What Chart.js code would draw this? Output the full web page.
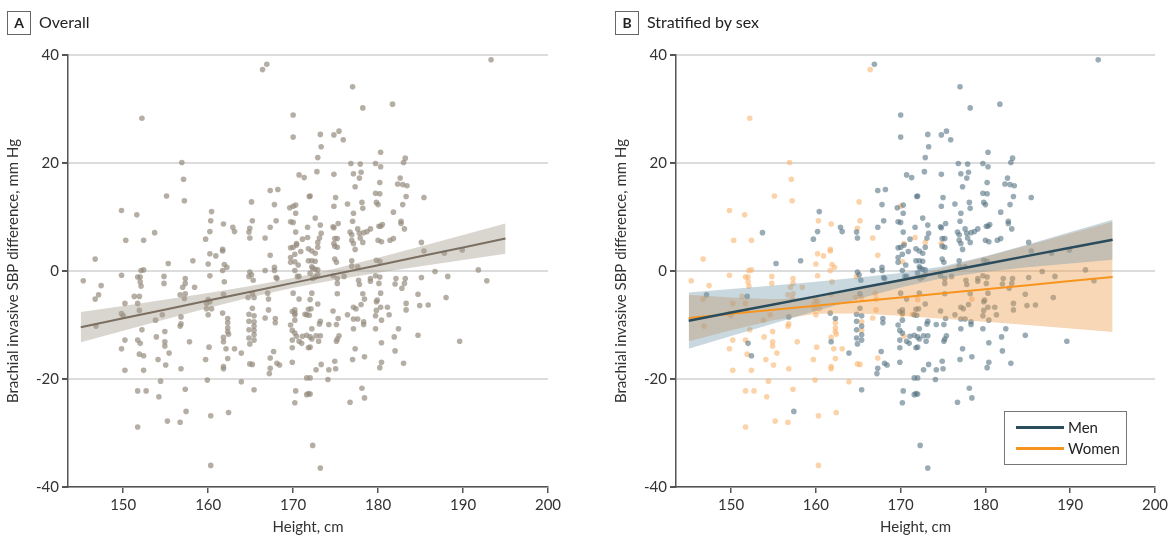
<!DOCTYPE html>
<html>
<head>
<meta charset="utf-8">
<script src="https://cdn.jsdelivr.net/npm/chart.js@4.4.1/dist/chart.umd.min.js"></script>
<style>
  body { margin: 0; background: #fff; font-family: Lato, sans-serif; color: #222; }
  #page { position: relative; width: 1173px; height: 540px; overflow: hidden; }
  .panel { position: absolute; top: 0; height: 540px; }
  .panel canvas { position: absolute; left: 0; top: 0; }
  .tag { position: absolute; top: 11px; left: 7px; width: 22px; height: 22px; border: 1px solid #666;
         font-weight: bold; font-size: 14px; text-align: center; line-height: 22px; box-sizing: content-box; }
  .caption { position: absolute; top: 11px; left: 39px; font-size: 16px; line-height: 22px; }
  .legend { position: absolute; left: 1004px; top: 411px; width: 121px; height: 52px; border: 1px solid #777; }
  .legend .key { position: absolute; left: 11px; width: 48px; height: 3px; }
  .legend .lbl { position: absolute; left: 63px; font-size: 15px; line-height: 18px; }
</style>
</head>
<body>
<div id="page">
  <div class="panel" style="left:0;width:586px">
    <canvas id="chartA" width="586" height="540"></canvas>
    <div class="tag">A</div><div class="caption">Overall</div>
  </div>
  <div class="panel" style="left:608px;width:565px">
    <canvas id="chartB" width="565" height="540"></canvas>
    <div class="tag">B</div><div class="caption">Stratified by sex</div>
  </div>
  <div class="legend">
    <div class="key" style="top:14px;background:#2b4c5c"></div><div class="lbl" style="top:6px">Men</div>
    <div class="key" style="top:35px;background:#f7941d"></div><div class="lbl" style="top:27px">Women</div>
  </div>
</div>
<script>
Chart.defaults.font.family = 'Lato, sans-serif';

// axis ticks
const xTicks = [150, 160, 170, 180, 190, 200];
const yTicks = [-40, -20, 0, 20, 40];

// each participant: height (cm), brachial invasive SBP difference (mm Hg), sex
const heightCm = [
  166.4,166.9,152.2,170.0,170.0,156.9,157.1,157.2,155.1,149.8,
  151.6,150.3,152.4,153.7,146.7,145.3,147.4,149.8,151.7,152.0,
  152.1,152.4,152.0,152.1,154.8,154.8,155.3,157.3,157.3,157.0,
  158.2,158.4,159.7,160.2,160.3,160.4,160.2,160.0,160.2,160.9,
  161.8,161.7,161.7,161.9,162.2,161.7,161.9,162.9,163.1,165.1,
  165.2,164.9,164.8,164.9,164.9,165.1,164.8,165.3,166.7,167.3,
  168.2,167.8,168.0,167.3,167.3,166.7,167.8,167.8,168.0,168.1,
  169.6,170.0,170.3,170.3,170.7,171.3,169.7,170.0,170.3,170.4,
  170.4,169.7,170.0,170.2,170.9,169.7,170.2,169.7,170.6,170.2,
  171.1,171.7,171.7,171.9,171.8,171.8,170.5,170.7,193.3,177.0,
  178.2,181.7,173.2,174.8,175.4,175.9,173.3,172.9,176.8,177.9,
  179.7,180.3,180.3,183.2,183.0,172.8,174.8,177.1,178.0,177.8,
  177.3,180.2,179.7,180.2,182.6,182.3,182.9,183.4,183.3,185.4,
  182.9,181.8,172.0,175.0,174.8,176.4,178.1,178.2,179.8,180.0,
  177.1,172.6,177.0,182.7,182.7,183.1,173.2,173.3,174.7,174.8,
  175.3,176.7,177.6,177.8,178.3,178.7,179.1,180.1,180.3,180.5,
  173.1,172.9,172.9,174.9,175.2,174.8,174.9,175.2,176.9,176.9,
  177.1,177.3,177.9,178.2,180.0,180.4,181.4,181.8,185.1,185.4,
  187.8,189.9,172.2,172.6,172.2,172.6,172.2,172.3,172.6,172.9,
  172.0,172.9,172.3,172.6,174.9,175.1,174.7,175.2,175.2,176.0,
  176.9,176.9,177.6,177.7,177.8,179.8,180.2,179.7,180.2,180.1,
  179.1,179.1,182.1,183.2,183.1,182.0,185.1,186.7,188.2,191.8,
  192.8,146.7,147.1,150.2,149.8,150.0,150.2,149.8,150.2,151.3,
  151.9,151.7,151.9,151.7,152.0,151.9,152.4,152.2,152.4,151.7,
  152.7,151.7,146.8,153.8,153.9,154.1,154.4,154.2,154.6,154.9,
  154.9,154.9,155.0,155.4,155.2,156.7,156.7,157.3,157.2,156.8,
  156.8,156.8,157.3,157.4,156.7,157.8,159.7,159.9,159.8,159.8,
  160.4,160.0,160.1,160.3,160.3,160.0,160.2,161.7,161.8,161.8,
  161.8,162.1,162.3,162.3,162.3,162.3,162.4,162.3,161.8,161.8,
  162.4,163.1,163.9,163.9,164.7,164.8,164.8,164.8,164.8,164.9,
  164.9,165.2,165.4,165.2,165.4,165.4,165.4,165.4,165.4,165.4,
  165.2,165.4,166.7,167.0,167.1,167.1,167.2,167.3,167.3,167.7,
  167.9,167.9,168.1,168.4,169.7,169.9,170.2,170.4,170.7,171.0,
  169.9,169.9,170.0,170.2,170.2,170.2,170.2,170.3,170.2,169.9,
  170.7,171.6,171.6,171.6,172.2,172.0,172.9,173.2,173.1,172.2,
  172.0,172.2,172.7,173.2,173.0,172.0,171.8,172.7,173.3,172.0,
  171.8,172.0,172.3,173.2,174.2,174.2,174.1,174.7,175.1,175.3,
  175.4,175.2,175.1,174.9,175.0,175.2,176.4,177.1,177.4,177.1,
  177.6,177.1,177.0,177.3,176.7,178.1,178.4,178.4,178.3,178.3,
  178.0,178.4,178.2,179.7,179.7,179.8,179.8,179.9,180.3,181.1,
  180.4,181.3,180.4,180.2,180.4,180.3,181.9,182.4,182.0,183.0,
  183.3,183.3,184.7,184.9,185.9,184.7,188.0,189.6,182.8,169.9,
  171.4,171.6,171.9,171.8,172.1,171.1
];
const sbpDiff = [
  37.3,38.3,28.3,28.9,24.8,20.1,17.0,13.0,13.9,11.2,
  10.4,5.7,5.7,7.1,2.2,-1.8,-2.7,-0.8,-1.1,-1.1,
  0.1,0.2,-2.0,-2.8,-1.0,-2.3,1.4,-1.4,-2.3,-3.0,
  1.9,-3.0,5.9,7.3,9.3,11.0,3.2,1.3,-0.9,2.8,
  8.7,4.0,3.7,1.2,0.7,0.1,-2.0,8.1,7.3,12.8,
  9.3,7.9,7.2,6.1,-0.2,-0.7,-1.0,-1.7,6.1,14.9,
  15.1,12.3,9.3,8.1,2.9,0.1,0.7,0.1,-1.2,-1.4,
  11.7,12.0,12.2,10.7,17.8,17.3,9.1,9.0,7.2,5.1,
  4.8,4.3,4.4,3.1,3.6,2.5,1.7,1.6,1.1,0.1,
  5.9,6.2,8.1,13.8,4.1,1.9,-1.0,-1.0,39.1,34.1,
  30.2,30.9,25.3,25.2,25.9,24.3,23.0,21.0,19.9,19.8,
  19.9,22.0,19.3,20.9,20.1,18.4,17.9,18.0,18.3,17.2,
  15.6,16.4,14.4,14.3,17.2,16.1,16.0,15.8,13.8,13.6,
  12.3,10.9,13.9,13.6,12.0,12.4,12.7,11.6,12.7,12.3,
  10.7,9.8,9.2,9.2,8.8,7.8,8.5,7.0,8.2,8.0,
  8.8,7.2,7.8,7.0,7.1,7.3,7.8,8.3,8.3,8.6,
  6.1,5.3,4.4,6.0,6.0,5.1,4.6,4.4,6.7,5.7,
  5.1,4.0,6.1,5.3,5.7,5.4,5.7,6.0,5.3,3.7,
  3.3,3.9,3.7,3.3,1.9,1.8,0.8,0.5,0.3,0.2,
  -0.4,-0.7,-1.4,-1.1,2.2,1.6,-0.9,-1.4,-2.3,-1.0,
  1.9,0.9,0.8,-1.7,-2.5,2.0,1.8,-0.9,-1.1,-2.3,
  -1.4,-1.9,-1.4,-1.4,-2.3,-2.4,-1.2,-0.1,-1.0,0.2,
  -1.8,-5.2,-4.4,-6.0,-7.9,-8.3,-12.8,-14.4,-18.4,-4.7,
  -4.7,-6.0,-7.3,-12.8,-13.4,-15.4,-15.7,-10.9,-18.4,-22.2,
  -22.2,-28.9,-10.2,-9.1,-12.2,-16.4,-20.4,-23.3,-8.1,-11.2,
  -13.1,-13.9,-17.4,-15.2,-27.8,-4.4,-10.2,-4.2,-5.1,-8.5,
  -9.8,-18.1,-21.9,-26.0,-28.0,-13.1,-16.4,-20.2,-6.0,-7.0,
  -7.0,-8.1,-14.1,-26.8,-36.0,-5.3,-5.7,-7.8,-4.3,-13.1,
  -12.3,-14.4,-8.8,-9.6,-10.5,-11.2,-11.7,-16.2,-17.7,-18.1,
  -26.2,-14.4,-15.2,-20.5,-4.9,-8.0,-9.3,-10.9,-12.4,-13.5,
  -17.2,-17.3,-22.0,-6.9,-8.3,-9.4,-10.2,-11.0,-11.8,-12.8,
  -4.2,-4.9,-8.7,-4.1,-5.2,-7.2,-19.0,-18.0,-16.1,-14.9,
  -8.8,-9.6,-17.1,-17.4,-10.0,-11.0,-11.5,-12.1,-13.0,-13.4,
  -12.8,-16.9,-4.1,-7.8,-8.1,-9.1,-7.2,-22.2,-24.4,-14.2,
  -5.2,-11.9,-19.8,-22.9,-4.1,-5.3,-6.1,-9.3,-9.8,-10.7,
  -12.2,-12.6,-12.0,-12.0,-13.0,-14.1,-14.2,-18.3,-17.3,-19.8,
  -22.7,-22.8,-32.3,-36.5,-9.9,-18.3,-20.1,-7.4,-9.9,-8.8,
  -12.0,-12.6,-13.0,-16.7,-18.1,-4.2,-8.1,-6.7,-7.0,-8.9,
  -8.9,-10.7,-16.4,-14.4,-24.3,-21.7,-23.5,-15.9,-9.9,-9.4,
  -6.2,-5.2,-4.2,-10.7,-8.3,-7.3,-5.7,-5.4,-6.7,-6.7,
  -9.1,-8.1,-13.3,-17.9,-16.9,-4.1,-12.2,-10.7,-14.8,-17.1,
  -7.2,-6.0,-11.9,-6.4,-6.3,-4.3,-4.9,-13.0,-3.2,-7.5,
  -8.0,-8.1,-8.2,-7.1,-7.0,-12.1
];
// M = men, W = women (same order as above)
const sex = (
  'WMWMMWWWWW' + 'WWWMWWWWWW' + 'WWWWWWMWWW' + 'MWMMWMWWWW' + 'WWWWWWWMMW' +
  'WWMMMMWMWM' + 'MMMMWMMMMM' + 'MWMMMMMMMW' + 'MMMMMMWMMM' + 'MWMMMMMMMM' +
  'MMMMMMMMMM' + 'MMMMMMMMMM' + 'MMMMMMMMMM' + 'MMMMMMMMMM' + 'MMMMMMMMMM' +
  'MMMMMMMMMM' + 'MWMMMWMMMM' + 'MMMMMMMMMM' + 'MMMMMMMMMM' + 'MMMMMMMMMM' +
  'MMMMMMMMMM' + 'MMMMMMMMMM' + 'MWMWWWWWWW' + 'MWWWMWMWWW' + 'WWWWWWWWWW' +
  'WWWWWWWWWM' + 'WWWMWWWWWW' + 'WWWWWWWMWM' + 'WWMWWWWWWW' + 'WWMWWMMMMM' +
  'WWMMMWMWMM' + 'MWWWWWMMWM' + 'MMMMMMMWMM' + 'MMMMWMMMMM' + 'MMMMMWMMMM' +
  'MMMMMMMMMM' + 'MMMMMMMMMM' + 'MMMMMMMMMM' + 'MMMMMMMMMM' + 'MWMMMMMMMM' +
  'MMMMMMMMMM' + 'MMMMMMMMMM' + 'WMMMMM'
).split('');

// fitted lines and 95% CI bands, read at these heights
const fitX = [145, 150, 155, 160, 165, 170, 175, 180, 185, 190, 195];
const overallFit = [-10.4, -8.76, -7.12, -5.48, -3.84, -2.2, -0.56, 1.08, 2.72, 4.36, 6.0];
const overallHi  = [-7.6, -6.46, -5.29, -4.09, -2.8, -1.3, 0.48, 2.47, 4.55, 6.66, 8.8];
const overallLo  = [-13.2, -11.06, -8.95, -6.87, -4.88, -3.1, -1.6, -0.31, 0.89, 2.06, 3.2];
const menFit = [-9.2, -7.7, -6.2, -4.7, -3.2, -1.7, -0.2, 1.3, 2.8, 4.3, 5.8];
const menHi  = [-4.0, -3.34, -2.7, -2.0, -1.2, -0.36, 0.9, 2.75, 4.9, 7.2, 9.5];
const menLo  = [-14.4, -12.06, -9.7, -7.4, -5.2, -3.04, -1.3, -0.15, 0.7, 1.4, 2.1];
const womenFit = [-8.7, -7.94, -7.18, -6.42, -5.66, -4.9, -4.14, -3.38, -2.62, -1.86, -1.1];
const womenHi  = [-4.4, -4.91, -5.25, -4.91, -3.46, -1.5, 0.56, 2.62, 4.78, 6.94, 9.1];
const womenLo  = [-13.0, -10.97, -9.11, -7.93, -7.86, -8.3, -8.84, -9.38, -10.02, -10.66, -11.3];

const pts = (filter) => heightCm
  .map((h, i) => ({ x: h, y: sbpDiff[i], s: sex[i] }))
  .filter(p => !filter || p.s === filter);
const curve = (ys) => fitX.map((x, i) => ({ x: x, y: ys[i] }));

function scatterSet(data, color) {
  return { type: 'scatter', data: data, pointRadius: 2.8, pointHoverRadius: 2.8,
           backgroundColor: color, borderWidth: 0, order: 3 };
}
function bandSets(hi, lo, color) {
  return [
    { type: 'line', data: curve(hi), borderWidth: 0, pointRadius: 0, fill: '+1',
      backgroundColor: color, order: 2 },
    { type: 'line', data: curve(lo), borderWidth: 0, pointRadius: 0, fill: false, order: 2 }
  ];
}
function lineSet(ys, color, width) {
  return { type: 'line', data: curve(ys), borderColor: color, borderWidth: width,
           pointRadius: 0, fill: false, order: 1 };
}

function makeChart(id, datasets, rightPad) {
  return new Chart(document.getElementById(id), {
    type: 'scatter',
    data: { datasets: datasets },
    options: {
      responsive: false,
      animation: false,
      layout: { padding: { top: 55, right: rightPad, left: 0, bottom: 0 } },
      plugins: { legend: { display: false }, tooltip: { enabled: false } },
      scales: {
        x: {
          type: 'linear', min: 143.5, max: 200,
          afterBuildTicks: s => { s.ticks = xTicks.map(v => ({ value: v })); },
          afterFit: s => { s.height = 53; },
          grid: { drawOnChartArea: false, tickLength: 6, tickColor: '#555', lineWidth: 1.5 },
          border: { color: '#555', width: 1.5 },
          ticks: { color: '#333', font: { size: 15 }, padding: 3 },
          title: { display: true, text: 'Height, cm', color: '#333', font: { size: 15 }, padding: { top: 4 } }
        },
        y: {
          min: -40, max: 40,
          afterBuildTicks: s => { s.ticks = yTicks.map(v => ({ value: v })); },
          afterFit: s => { s.width = 68; },
          grid: { color: '#dcdcdc', lineWidth: 2, tickLength: 6, tickColor: '#555' },
          border: { color: '#555', width: 1.5 },
          ticks: { color: '#333', font: { size: 15 }, padding: 3 },
          title: { display: true, text: 'Brachial invasive SBP difference, mm Hg', color: '#333',
                   font: { size: 15 }, padding: { bottom: 4 } }
        }
      }
    }
  });
}

makeChart('chartA', [
  scatterSet(pts(null), 'rgba(150,140,125,0.7)'),
  ...bandSets(overallHi, overallLo, 'rgba(165,155,140,0.42)'),
  lineSet(overallFit, '#7b6f62', 2)
], 38);

makeChart('chartB', [
  scatterSet(pts('M'), 'rgba(85,115,130,0.6)'),
  scatterSet(pts('W'), 'rgba(250,180,110,0.6)'),
  ...bandSets(menHi, menLo, 'rgba(120,155,175,0.4)'),
  ...bandSets(womenHi, womenLo, 'rgba(238,160,80,0.42)'),
  lineSet(menFit, '#2b4c5c', 2.5),
  lineSet(womenFit, '#f7941d', 2)
], 18);
</script>
</body>
</html>
